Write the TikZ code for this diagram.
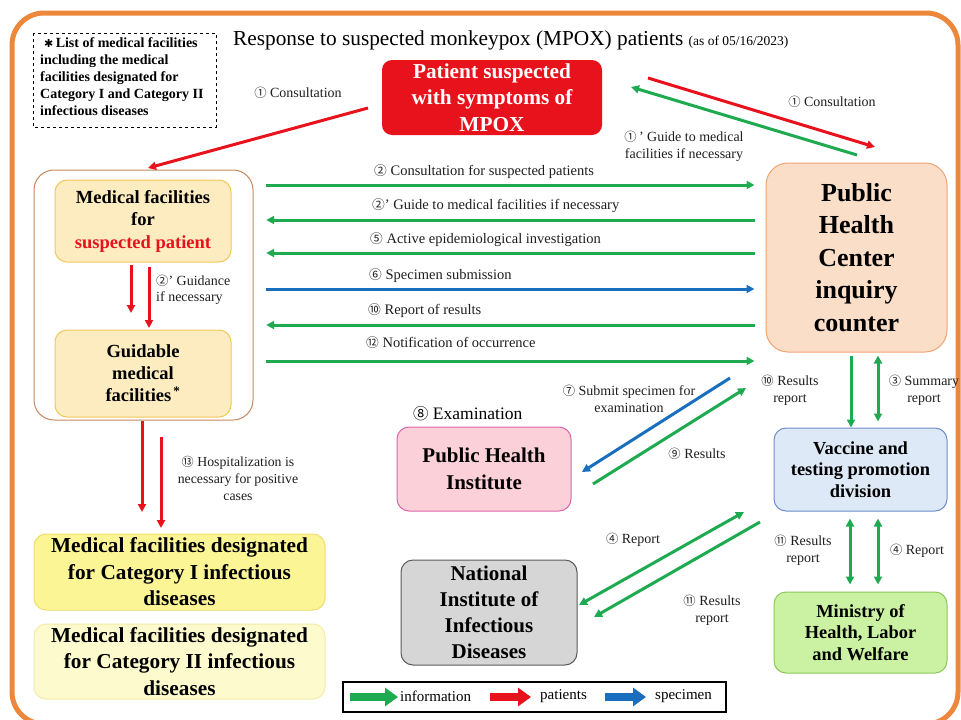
\documentclass[tikz,border=0pt]{standalone}
\usepackage{fontspec}
\setmainfont{Liberation Serif}
\newfontfamily\dfont{DejaVu Sans}
\newfontfamily\cfont[Scale=0.88]{Noto Sans CJK JP}
\usetikzlibrary{arrows.meta}
\definecolor{cgreen}{RGB}{30,170,80}
\definecolor{cred}{RGB}{232,18,28}
\definecolor{cblue}{RGB}{25,110,190}
\definecolor{corange}{RGB}{236,135,60}
\definecolor{ctext}{RGB}{30,30,30}
\newcommand\cn[1]{{\cfont #1}}
\newcommand\fs[2]{\fontsize{#1}{#2}\selectfont}
\tikzset{
  arrbase/.style={line width=3pt},
  garr/.style={arrbase, draw=cgreen, -{Triangle[length=8pt,width=8pt]}},
  gdarr/.style={arrbase, draw=cgreen, {Triangle[length=8pt,width=8pt]}-{Triangle[length=8pt,width=8pt]}},
  rarr/.style={arrbase, draw=cred, -{Triangle[length=8pt,width=8pt]}},
  barr/.style={arrbase, draw=cblue, -{Triangle[length=8pt,width=8pt]}},
  lab/.style={text=ctext, font=\fs{14}{17}, align=center, inner sep=0pt},
  llab/.style={text=ctext, font=\fs{14.5}{17}, align=left, inner sep=0pt, anchor=west},
  box/.style={rounded corners=12pt, line width=1pt, align=center, font=\bfseries, inner sep=0pt},
  legarr/.style={line width=8pt, -{Triangle[length=13pt,width=18pt]}}
}
\begin{document}
\begin{tikzpicture}[x=1pt,y=-1pt]
\useasboundingbox (0,0) rectangle (961,720);
\begin{scope}
\clip (0,0) rectangle (961,720);
\draw[corange, line width=5pt, rounded corners=32pt] (12,13) rectangle (958,724);
\end{scope}

% title
\node[anchor=base west, inner sep=0pt, font=\fs{21.3}{24}] (title) at (233,45)
  {Response to suspected monkeypox (MPOX) patients {\fs{13.5}{15}(as of 05/16/2023)}};

% note box
\draw[dashed, line width=1pt] (33,33) rectangle (216,127);
\node[anchor=north west, inner sep=0pt, align=left, font=\bfseries\fs{14}{17.2}] (note) at (40,37)
  {\hspace*{4pt}{\dfont\fs{11}{12}✱}\,List of medical facilities\\including the medical\\facilities designated for\\Category I and Category II\\infectious diseases};

% nodes
\node[box, fill=cred, rounded corners=10pt, minimum width=220pt, minimum height=75pt, text=white, font=\bfseries\fs{21.3}{26.5}] (pat) at (492,97.5)
  {Patient suspected\\with symptoms of\\MPOX};

\draw[rounded corners=20pt, line width=1pt, draw={rgb,255:red,195;green,135;blue,95}] (34,170) rectangle (253,420);
\node[inner sep=0pt, minimum width=219pt, minimum height=250pt] (cont) at (143.5,295) {};

\node[box, fill={rgb,255:red,253;green,236;blue,192}, draw={rgb,255:red,240;green,200;blue,90}, minimum width=176pt, minimum height=82pt, font=\bfseries\fs{18.5}{22.5}] (med1) at (143,221)
  {Medical facilities\\for\\\textcolor{cred}{suspected patient}};
\node[box, fill={rgb,255:red,253;green,236;blue,192}, draw={rgb,255:red,240;green,200;blue,90}, minimum width=176pt, minimum height=87pt, font=\bfseries\fs{18.5}{22}] (med2) at (143,373.5)
  {Guidable\\medical\\facilities\textsuperscript{\,*}};

\node[box, fill={rgb,255:red,252;green,245;blue,150}, draw={rgb,255:red,240;green,220;blue,110}, minimum width=291pt, minimum height=76pt, font=\bfseries\fs{21.3}{26.5}] (cat1) at (179.5,572)
  {Medical facilities designated\\for Category I infectious\\diseases};
\node[box, fill={rgb,255:red,253;green,250;blue,205}, draw={rgb,255:red,245;green,235;blue,170}, minimum width=291pt, minimum height=75pt, font=\bfseries\fs{21.3}{26.5}] (cat2) at (179.5,661.5)
  {Medical facilities designated\\for Category II infectious\\diseases};

\node[box, rounded corners=22pt, fill={rgb,255:red,251;green,222;blue,200}, draw={rgb,255:red,240;green,165;blue,115}, minimum width=181pt, minimum height=189pt, font=\bfseries\fs{26}{32.5}] (phc) at (856.5,257.5)
  {Public\\Health\\Center\\inquiry\\counter};

\node[box, fill={rgb,255:red,221;green,233;blue,247}, draw={rgb,255:red,110;green,140;blue,200}, minimum width=173pt, minimum height=83pt, font=\bfseries\fs{18.4}{21.5}] (vac) at (860.5,469.5)
  {Vaccine and\\testing promotion\\division};
\node[box, fill={rgb,255:red,202;green,242;blue,162}, draw={rgb,255:red,140;green,200;blue,90}, minimum width=173pt, minimum height=81pt, font=\bfseries\fs{18.4}{21.5}] (min) at (860.5,632.5)
  {Ministry of\\Health, Labor\\and Welfare};

\node[anchor=base west, inner sep=0pt, font=\fs{17.5}{20}] (exam) at (413,419) {\cn{⑧} Examination};
\node[box, fill={rgb,255:red,251;green,208;blue,216}, draw={rgb,255:red,220;green,100;blue,170}, minimum width=174pt, minimum height=84pt, font=\bfseries\fs{21}{27}] (phi) at (484,469)
  {Public Health\\Institute};
\node[box, fill={rgb,255:red,214;green,214;blue,214}, draw={rgb,255:red,90;green,90;blue,90}, minimum width=176pt, minimum height=105pt, font=\bfseries\fs{21}{26}] (niid) at (489,612.5)
  {National\\Institute of\\Infectious\\Diseases};

% patient arrows
\coordinate (p1s) at (368,108); \coordinate (p1e) at (148,168);
\draw[rarr] (p1s) -- (p1e);
\node[lab] at (298,93) {\cn{①} Consultation};
\coordinate (p2s) at (648,78); \coordinate (p2e) at (875,147);
\draw[rarr] (p2s) -- (p2e);
\coordinate (p3s) at (857,155); \coordinate (p3e) at (631,87);
\draw[garr] (p3s) -- (p3e);
\node[lab] at (832,102) {\cn{①} Consultation};
\node[lab] at (684,146) {\cn{①}\,' Guide to medical\\facilities if necessary};

% horizontal arrows
\draw[garr, shorten <=13pt, shorten >=11pt] (cont.east |- 0,185) -- (phc.west |- 0,185);
\draw[garr, shorten >=13pt, shorten <=11pt] (phc.west |- 0,220) -- (cont.east |- 0,220);
\draw[garr, shorten >=13pt, shorten <=11pt] (phc.west |- 0,253) -- (cont.east |- 0,253);
\draw[barr, shorten <=13pt, shorten >=11pt] (cont.east |- 0,289) -- (phc.west |- 0,289);
\draw[garr, shorten >=13pt, shorten <=11pt] (phc.west |- 0,325) -- (cont.east |- 0,325);
\draw[garr, shorten <=13pt, shorten >=11pt] (cont.east |- 0,361) -- (phc.west |- 0,361);
\node[llab] at (374,172) {\cn{②} Consultation for suspected patients};
\node[llab] at (372,206) {\cn{②}' Guide to medical facilities if necessary};
\node[llab] at (370,240) {\cn{⑤} Active epidemiological investigation};
\node[llab] at (369,276) {\cn{⑥} Specimen submission};
\node[llab] at (368,311) {\cn{⑩} Report of results};
\node[llab] at (366,343) {\cn{⑫} Notification of occurrence};

% inside container
\coordinate (g1s) at (131,265); \coordinate (g1e) at (131,313);
\coordinate (g2s) at (149,267); \coordinate (g2e) at (149,328);
\draw[rarr] (g1s) -- (g1e);
\draw[rarr] (g2s) -- (g2e);
\node[llab, font=\fs{14}{16}] at (156,290) {\cn{②}' Guidance\\if necessary};

% hospitalization
\coordinate (h1s) at (142,421); \coordinate (h1e) at (142,512);
\coordinate (h2s) at (161,437); \coordinate (h2e) at (161,528);
\draw[rarr] (h1s) -- (h1e);
\draw[rarr] (h2s) -- (h2e);
\node[lab, font=\fs{13.8}{17}] at (238,478) {\cn{⑬} Hospitalization is\\necessary for positive\\cases};

% PHC <-> vaccine
\draw[garr] (phc.south -| 851,0) ++(0,3) -- (vac.north -| 851,0);
\draw[gdarr, shorten <=3pt, shorten >=6pt] (phc.south -| 878,0) -- (vac.north -| 878,0);
\node[lab] at (790,390) {\cn{⑩} Results\\report};
\node[lab] at (924,390) {\cn{③} Summary\\report};

% vaccine <-> ministry
\draw[gdarr, shorten <=7pt, shorten >=7pt] (vac.south -| 850,0) -- (min.north -| 850,0);
\draw[gdarr, shorten <=7pt, shorten >=7pt] (vac.south -| 878,0) -- (min.north -| 878,0);
\node[lab] at (803,550) {\cn{⑪} Results\\report};
\node[lab] at (917,551) {\cn{④} Report};

% PHI arrows
\coordinate (s7s) at (730,378); \coordinate (s7e) at (582,472);
\draw[barr] (s7s) -- (s7e);
\coordinate (s9s) at (593,484); \coordinate (s9e) at (746,388);
\draw[garr] (s9s) -- (s9e);
\node[lab] at (629,399) {\cn{⑦} Submit specimen for\\examination};
\node[lab] at (697,454) {\cn{⑨} Results};

% NIID arrows
\coordinate (r4s) at (579,605); \coordinate (r4e) at (744,512);
\draw[gdarr] (r4s) -- (r4e);
\coordinate (r11s) at (760,522); \coordinate (r11e) at (594,617);
\draw[garr] (r11s) -- (r11e);
\node[lab] at (633,540) {\cn{④} Report};
\node[lab] at (712,610) {\cn{⑪} Results\\report};

% legend
\draw[line width=1.2pt] (343,682) rectangle (726,712);
\node[inner sep=0pt, minimum width=383pt, minimum height=30pt] (leg) at (534.5,697) {};
\draw[legarr, cgreen] (350,697) -- (398,697);
\node[anchor=west, inner sep=0pt, font=\fs{15}{16}] at (400,696) {information};
\draw[legarr, cred] (490,697) -- (531,697);
\node[anchor=west, inner sep=0pt, font=\fs{15}{16}] at (540,696) {patients};
\draw[legarr, cblue] (605,697) -- (646,697);
\node[anchor=west, inner sep=0pt, font=\fs{15}{16}] at (655,696) {specimen};
\end{tikzpicture}
\end{document}
